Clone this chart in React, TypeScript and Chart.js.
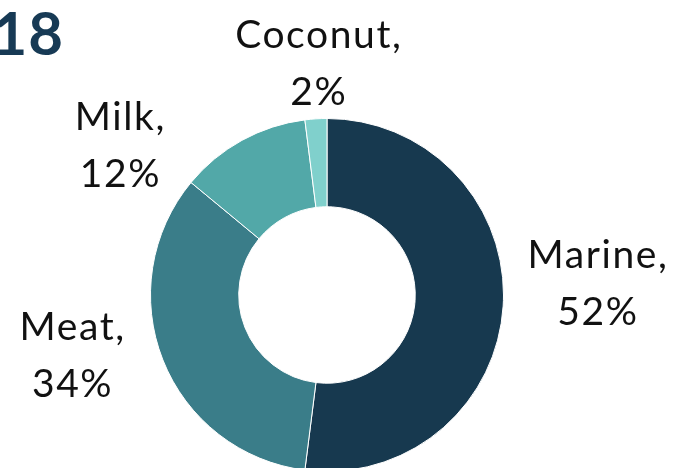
import React, { useEffect, useRef } from "react";
import { Chart, registerables } from "chart.js";

Chart.register(...registerables);

const categories = ["Marine", "Meat", "Milk", "Coconut"];
const shares = [52, 34, 12, 2];
const colors = ["#17394f", "#3a7d89", "#52a8a8", "#80d0cc"];
const titleText = "2018";
// label anchors relative to the ring's centre, in units of outer radius
const labelAnchors = [
  [1.531, 0.008],
  [-1.446, 0.415],
  [-1.175, -0.771],
  [-0.051, -1.237],
];

const labelPlugin = {
  id: "outsideLabels",
  afterDraw(chart: any) {
    const ctx = chart.ctx;
    const meta = chart.getDatasetMeta(0);
    const arc0 = meta.data[0];
    if (!arc0) return;
    const cx = arc0.x;
    const cy = arc0.y;
    const R = arc0.outerRadius;
    ctx.save();
    ctx.fillStyle = "#111111";
    ctx.font = "39px Lato";
    (ctx as any).letterSpacing = "1.6px";
    ctx.textAlign = "center";
    ctx.textBaseline = "alphabetic";
    const lh = 57;
    categories.forEach((c, i) => {
      const [fx, fy] = labelAnchors[i];
      const x = cx + fx * R + 0.8;
      const y = cy + fy * R;
      ctx.fillText(c + ",", x, y - lh / 2);
      ctx.fillText(shares[i] + "%", x, y + lh / 2);
    });
    (ctx as any).letterSpacing = "1px";
    // title
    ctx.fillStyle = "#173a55";
    ctx.font = "bold 60px Lato";
    ctx.textAlign = "right";
    ctx.fillText(titleText, 64, 55);
    ctx.restore();
  },
};

export default function App() {
  const ref = useRef<HTMLCanvasElement>(null);
  useEffect(() => {
    if (!ref.current) return;
    const chart = new Chart(ref.current, {
      type: "doughnut",
      data: {
        labels: categories,
        datasets: [
          {
            data: shares,
            backgroundColor: colors,
            borderColor: "#ffffff",
            borderWidth: 1,
          },
        ],
      },
      options: {
        animation: false,
        responsive: false,
        maintainAspectRatio: false,
        cutout: "50%",
        layout: { padding: { left: 150, right: 175, top: 118, bottom: 18 } },
        plugins: {
          legend: { display: false },
          tooltip: { enabled: false },
          title: { display: false },
        },
      },
      plugins: [labelPlugin],
    });
    return () => chart.destroy();
  }, []);
  return (
    <div
      style={{
        position: "fixed",
        left: 0,
        top: 0,
        width: 679,
        height: 468,
        overflow: "hidden",
        background: "#ffffff",
      }}
    >
      <canvas ref={ref} width={679} height={490} style={{ display: "block" }} />
    </div>
  );
}
